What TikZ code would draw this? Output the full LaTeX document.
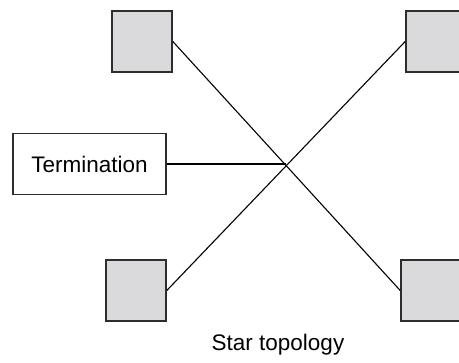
\documentclass[tikz,border=0pt]{standalone}
\usepackage{fontspec}
\setmainfont{Liberation Sans}
\usepackage{tikz}
\usetikzlibrary{positioning}
\tikzstyle{starPlan} = [x = 1pt, y = -1pt]
\definecolor{deviceGray}{RGB}{218,218,220}
\definecolor{edgeColor}{RGB}{45,45,45}
\tikzstyle{deviceStyle} = [draw=edgeColor, fill=deviceGray, line width=1.6pt, minimum width=60pt, minimum height=61pt, inner sep=0pt]
\tikzstyle{terminationStyle} = [draw=edgeColor, fill=white, line width=1.4pt, minimum width=153pt, minimum height=61pt, inner sep=0pt, font=\fontsize{22.5}{26}\selectfont]
\tikzstyle{cableLine} = [color=black, line width=1.1pt]
\tikzstyle{captionText} = [font=\fontsize{22.5}{26}\selectfont]
\newcommand{\deviceBox}[3]{\node [deviceStyle] (#1) at (#2, #3) {};}

\begin{document}
\begin{tikzpicture}[starPlan]
  \useasboundingbox (0,0) rectangle (459,363);
  \deviceBox{topLeft}{142}{41.5}
  \deviceBox{topRight}{436}{41.5}
  \deviceBox{bottomLeft}{136}{290.5}
  \deviceBox{bottomRight}{431}{290.5}
  \node [terminationStyle] (termination) at (89.5, 164) {Termination};
  \coordinate (hub) at (intersection of topLeft.east--bottomRight.west and topRight.west--bottomLeft.east);
  \draw [cableLine] (topLeft.east) -- (bottomRight.west);
  \draw [cableLine] (topRight.west) -- (bottomLeft.east);
  \draw [cableLine] (termination.east) -- (termination.east -| hub);
  \node [captionText] (caption) at (278, 345) {Star topology};
\end{tikzpicture}
\end{document}
